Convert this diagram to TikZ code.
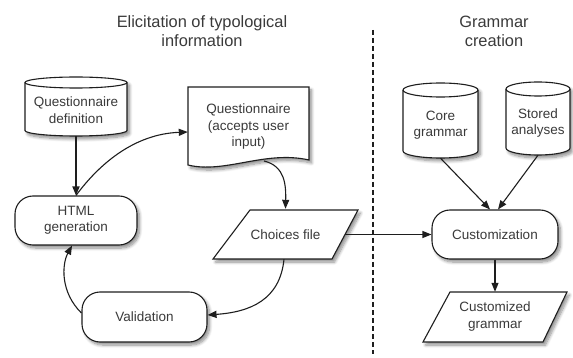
\documentclass[tikz,border=0pt]{standalone}
\usepackage{fontspec}
\setmainfont{Liberation Sans}
\usetikzlibrary{arrows.meta,shadows.blur}
\definecolor{txt}{HTML}{3A3A3A}
\definecolor{ln}{HTML}{1E1E1E}
% cylinder: center x, half width, top y, bottom y, ellipse radius (pixel units, y downward)
\newcommand\mycyl[5]{%
  \draw[shp] ({#1-#2},{-(#3+#5)}) -- ({#1-#2},{-(#4-#5)})
     arc[start angle=180,end angle=360,x radius=#2pt,y radius=#5pt]
     -- ({#1+#2},{-(#3+#5)})
     arc[start angle=0,end angle=180,x radius=#2pt,y radius=#5pt] -- cycle;
  \draw[draw=ln,line width=1.1pt] ({#1-#2},{-(#3+#5)})
     arc[start angle=180,end angle=360,x radius=#2pt,y radius=#5pt];}
\begin{document}
\begin{tikzpicture}[x=1pt,y=1pt,
  lbl/.style={text=txt,font=\fontsize{13.5}{16.5}\selectfont,align=center,inner sep=0},
  ttl/.style={text=txt,font=\fontsize{16.4}{19}\selectfont,align=center,inner sep=0},
  shp/.style={draw=ln,line width=1.1pt,fill=white,
    blur shadow={shadow xshift=2.5pt,shadow yshift=-3pt,shadow blur radius=3pt,shadow blur steps=8,shadow opacity=45}},
  conn/.style={draw=ln,line width=1.1pt,-{Triangle[length=9pt,width=7pt]}},
  term/.style={shp,rounded corners=18pt,lbl},
  box/.style={inner sep=0,minimum width=#1},
]
\useasboundingbox (0,0) rectangle (573,-358);

% titles
\node[ttl] (t1) at (202,-31.5) {Elicitation of typological\\information};
\node[ttl] (t2) at (494,-31.5) {Grammar\\creation};

% divider
\coordinate (dtop) at (373,-30);
\coordinate (dbot) at (373,-354);
\draw[draw=ln,line width=1.2pt,dash pattern=on 5pt off 3pt] (dtop) -- (dbot);

% cylinders
\mycyl{76}{51}{77}{136}{5.5}
\mycyl{440.5}{37.5}{83}{158}{7}
\mycyl{538}{32}{82}{155}{7}
\node[box=102,minimum height=59] (qdef) at (76,-106.5) {};
\node[lbl] (qdefL) at (76,-110) {Questionnaire\\definition};
\node[box=75,minimum height=75] (core) at (440.5,-120.5) {};
\node[lbl] (coreL) at (440.5,-125) {Core\\grammar};
\node[box=64,minimum height=73] (stored) at (538,-118.5) {};
\node[lbl] (storedL) at (538,-123) {Stored\\analyses};

% document
\draw[shp] (188,-87) -- (309,-87) -- (309,-160)
  .. controls (265,-150) and (225,-174) .. (188,-165) -- cycle;
\node[box=121,minimum height=78] (qdoc) at (248.5,-126) {};
\node[lbl] (qdocL) at (248.5,-127) {Questionnaire\\(accepts user\\input)};
\coordinate (qdocB) at (264,-161);

% parallelograms
\draw[shp] (250,-210) -- (358,-210) -- (332,-259) -- (213,-259) -- cycle;
\node[box=145,minimum height=49] (choices) at (285.5,-234.5) {};
\node[lbl] (choicesL) at (285.5,-234.5) {Choices file};
\draw[shp] (450,-292) -- (567,-292) -- (543,-342) -- (423,-342) -- cycle;
\node[box=144,minimum height=50] (cgram) at (495,-317) {};
\node[lbl] (cgramL) at (495,-316.5) {Customized\\grammar};

% terminals
\node[term,minimum width=122,minimum height=49] (html) at (76,-220.5) {HTML\\generation};
\node[term,minimum width=125,minimum height=50] (valid) at (144.5,-317) {Validation};
\node[term,minimum width=126,minimum height=49] (custom) at (495,-234.5) {Customization};

% connectors
\draw[conn,line width=1.7pt] (qdef.south) -- (html.north);
\draw[conn] (html.north) .. controls (100,-163) and (135,-134) .. ([yshift=-6pt]qdoc.west);
\draw[conn] (qdocB) .. controls (285,-166) and (286,-185) .. ([yshift=1pt]choices.north);
\draw[conn] ([xshift=-13pt]choices.east) -- (custom.west);
\draw[conn] ([xshift=-1.5pt]choices.south) .. controls (280,-300) and (250,-312) .. ([yshift=2pt]valid.east);
\draw[conn] ([yshift=4pt]valid.west) .. controls (60,-292) and (62,-264) .. ([xshift=-4pt]html.south);
\draw[conn] (core.south) -- ([xshift=-5pt]custom.north);
\draw[conn] (stored.south) -- ([xshift=3pt]custom.north);
\draw[conn] (custom.south) -- (cgram.north);
\end{tikzpicture}
\end{document}
